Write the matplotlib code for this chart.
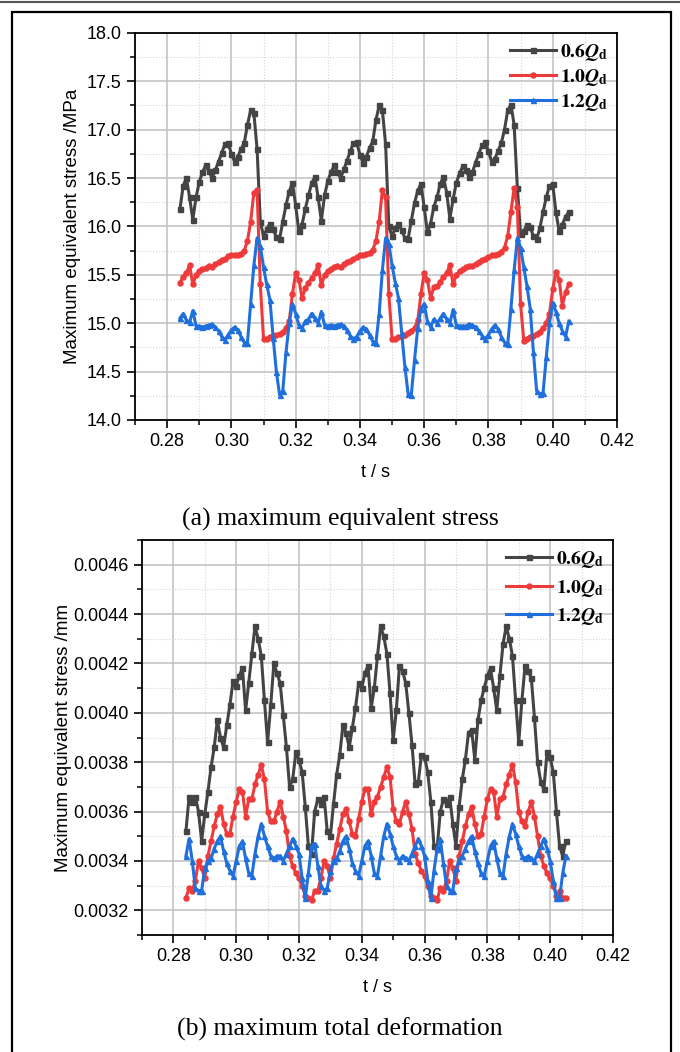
import numpy as np
import matplotlib
matplotlib.use('Agg')
import matplotlib.pyplot as plt
from matplotlib.ticker import MultipleLocator, FormatStrFormatter
from matplotlib.patches import Rectangle
from matplotlib.lines import Line2D

plt.rcParams['font.family'] = ['Liberation Sans', 'DejaVu Sans']
plt.rcParams['mathtext.fontset'] = 'stix'

# sample times, s (one sample per ms)
t = np.arange(284, 406) / 1000.0

# (a) maximum equivalent stress, MPa
stress_06 = [
    16.18, 16.42, 16.50, 16.30, 16.07, 16.30, 16.46, 16.56, 16.63, 16.57,
    16.50, 16.58, 16.67, 16.76, 16.85, 16.86, 16.75, 16.67, 16.72, 16.80,
    16.86, 17.05, 17.20, 17.17, 16.80, 16.05, 15.90, 15.97, 16.03, 15.97,
    15.89, 15.87, 16.05, 16.22, 16.36, 16.45, 16.22, 15.95, 16.02, 16.18,
    16.32, 16.45, 16.51, 16.30, 16.06, 16.32, 16.47, 16.56, 16.63, 16.56,
    16.50, 16.59, 16.68, 16.78, 16.86, 16.87, 16.74, 16.66, 16.72, 16.81,
    16.88, 17.10, 17.25, 17.20, 16.85, 16.00, 15.90, 15.98, 16.03, 15.96,
    15.88, 15.87, 16.06, 16.24, 16.37, 16.44, 16.20, 15.94, 16.03, 16.20,
    16.30, 16.44, 16.51, 16.35, 16.08, 16.28, 16.45, 16.55, 16.62, 16.58,
    16.51, 16.56, 16.66, 16.75, 16.84, 16.87, 16.78, 16.67, 16.70, 16.78,
    16.86, 17.00, 17.20, 17.26, 17.05, 16.40, 15.92, 15.95, 16.02, 15.99,
    15.90, 15.87, 15.98, 16.15, 16.30, 16.42, 16.44, 16.15, 15.95, 16.02,
    16.10, 16.15]
stress_10 = [
    15.42, 15.48, 15.52, 15.60, 15.40, 15.50, 15.54, 15.56, 15.57, 15.59,
    15.58, 15.61, 15.63, 15.65, 15.66, 15.69, 15.70, 15.70, 15.71, 15.72,
    15.75, 15.85, 16.05, 16.35, 16.38, 15.40, 14.84, 14.84, 14.86, 14.87,
    14.88, 14.89, 14.91, 14.95, 15.02, 15.30, 15.52, 15.45, 15.26, 15.36,
    15.42, 15.47, 15.52, 15.60, 15.39, 15.50, 15.54, 15.56, 15.58, 15.59,
    15.58, 15.61, 15.63, 15.64, 15.66, 15.68, 15.70, 15.70, 15.72, 15.73,
    15.76, 15.85, 16.05, 16.38, 16.30, 15.30, 14.84, 14.84, 14.86, 14.87,
    14.88, 14.90, 14.92, 14.95, 15.03, 15.30, 15.52, 15.45, 15.26, 15.37,
    15.38, 15.43, 15.48, 15.52, 15.60, 15.40, 15.50, 15.54, 15.56, 15.58,
    15.59, 15.59, 15.61, 15.63, 15.65, 15.66, 15.68, 15.70, 15.71, 15.72,
    15.74, 15.78, 15.90, 16.15, 16.40, 16.20, 15.20, 14.82, 14.84, 14.86,
    14.87, 14.89, 14.91, 14.95, 15.00, 15.10, 15.35, 15.53, 15.45, 15.18,
    15.32, 15.40]
stress_12 = [
    15.05, 15.10, 15.03, 15.01, 15.13, 14.97, 14.97, 14.96, 14.97, 14.98,
    14.99, 14.96, 14.92, 14.86, 14.83, 14.88, 14.93, 14.96, 14.93, 14.86,
    14.80, 14.80, 15.20, 15.60, 15.88, 15.80, 15.58, 15.40, 15.24, 14.85,
    14.50, 14.26, 14.30, 14.70, 15.00, 15.20, 15.10, 14.98, 14.95, 15.02,
    15.04, 15.10, 15.05, 15.00, 15.12, 14.98, 14.97, 14.98, 14.97, 14.98,
    14.99, 14.97, 14.93, 14.87, 14.84, 14.86, 14.92, 14.96, 14.94, 14.88,
    14.81, 14.80, 15.10, 15.55, 15.88, 15.82, 15.60, 15.42, 15.26, 14.90,
    14.55, 14.27, 14.26, 14.62, 14.95, 15.15, 15.20, 15.02, 14.96, 15.04,
    15.00, 15.05, 15.10, 15.04, 15.00, 15.14, 14.98, 14.97, 14.97, 14.97,
    14.99, 14.98, 14.96, 14.92, 14.87, 14.84, 14.88, 14.94, 14.98, 14.94,
    14.86, 14.80, 14.78, 15.15, 15.55, 15.88, 15.78, 15.58, 15.38, 15.15,
    14.70, 14.30, 14.27, 14.28, 14.65, 15.00, 15.21, 15.12, 15.00, 14.92,
    14.86, 15.02]

# (b) maximum total deformation, in units of 1e-4 mm
deform_06 = [
    35.2, 36.6, 36.4, 36.6, 36.0, 34.8, 35.9, 36.8, 37.8, 38.6,
    39.7, 39.0, 38.6, 39.5, 40.3, 41.3, 41.1, 41.5, 41.8, 40.1,
    41.2, 42.4, 43.5, 43.0, 42.3, 40.5, 38.8, 40.3, 42.0, 41.6,
    41.2, 39.9, 38.6, 37.0, 37.3, 38.4, 38.1, 37.6, 36.2, 34.6,
    34.3, 36.0, 36.5, 36.3, 36.6, 35.2, 35.0, 36.3, 37.5, 38.3,
    39.5, 39.2, 38.6, 39.4, 40.2, 41.2, 41.0, 41.6, 41.9, 40.2,
    41.0, 42.3, 43.5, 43.1, 42.4, 40.8, 38.9, 40.1, 41.9, 41.7,
    41.2, 40.0, 38.7, 37.1, 37.2, 38.3, 38.2, 37.6, 36.4, 34.6,
    34.5, 36.0, 36.5, 36.3, 36.6, 35.5, 34.6, 36.2, 37.3, 38.1,
    39.2, 39.3, 38.1, 39.7, 40.5, 41.0, 41.5, 41.8, 41.0, 40.1,
    41.5, 42.8, 43.5, 43.0, 42.3, 40.5, 38.8, 40.5, 41.9, 41.7,
    41.4, 39.8, 38.0, 37.2, 36.9, 38.4, 38.2, 37.6, 36.0, 34.6,
    34.2, 34.8]
deform_10 = [
    32.5, 32.9, 32.8, 33.2, 34.0, 33.7, 33.3, 34.2, 34.8, 35.4,
    35.9, 36.2, 35.5, 35.1, 35.1, 35.8, 36.4, 36.9, 36.8, 35.8,
    36.5, 36.5, 37.1, 37.5, 37.9, 37.3, 36.0, 35.6, 35.6, 36.0,
    36.4, 35.8, 35.2, 34.2, 33.8, 33.5, 33.3, 33.0, 32.6, 32.5,
    32.4, 32.8, 32.8, 33.3, 34.0, 33.8, 33.3, 34.1, 34.7, 35.3,
    35.9, 36.1, 35.6, 35.1, 35.0, 35.7, 36.4, 36.9, 36.9, 35.9,
    36.4, 36.6, 37.0, 37.4, 37.8, 37.4, 36.1, 35.6, 35.5, 36.0,
    36.4, 35.9, 35.3, 34.3, 33.9, 33.6, 33.4, 33.0, 32.6, 32.5,
    32.4, 32.9, 32.8, 33.2, 34.0, 33.7, 33.2, 34.2, 34.8, 35.4,
    35.9, 36.2, 35.5, 35.0, 35.1, 35.8, 36.5, 36.9, 36.8, 35.8,
    36.5, 36.6, 37.1, 37.5, 37.9, 37.2, 36.0, 35.6, 35.4, 36.0,
    36.4, 35.8, 35.0, 34.2, 33.8, 33.5, 33.3, 33.0, 32.6, 32.8,
    32.5, 32.5]
deform_12 = [
    34.2, 34.9, 34.0, 32.9, 32.8, 32.8, 33.7, 34.0, 34.1, 34.5,
    34.8, 35.0, 34.4, 33.9, 33.6, 33.4, 34.0, 34.6, 34.8, 34.1,
    33.5, 33.4, 34.3, 35.0, 35.5, 35.0, 34.6, 34.2, 34.1, 34.2,
    34.2, 34.0, 34.3, 34.6, 34.9, 34.6, 34.3, 33.3, 32.5, 33.5,
    34.6, 34.7, 33.8, 33.0, 32.8, 32.9, 33.6, 34.0, 34.1, 34.4,
    34.8, 35.0, 34.5, 33.9, 33.6, 33.4, 34.0, 34.6, 34.8, 34.2,
    33.5, 33.4, 34.2, 35.0, 35.5, 35.1, 34.6, 34.2, 34.0, 34.2,
    34.1, 34.0, 34.3, 34.6, 34.9, 34.6, 34.2, 33.2, 32.5, 33.6,
    34.5, 34.9, 33.9, 33.0, 32.8, 32.8, 33.7, 34.0, 34.2, 34.5,
    34.8, 35.0, 34.4, 33.9, 33.5, 33.4, 34.0, 34.6, 34.8, 34.1,
    33.5, 33.4, 34.3, 35.0, 35.5, 35.1, 34.6, 34.2, 34.1, 34.2,
    34.1, 34.0, 34.3, 34.6, 34.9, 34.5, 34.0, 33.2, 32.5, 32.5,
    33.5, 34.2]

labels = [r'$\mathbf{0.6}\mathbfit{Q}_{\mathbf{d}}$',
          r'$\mathbf{1.0}\mathbfit{Q}_{\mathbf{d}}$',
          r'$\mathbf{1.2}\mathbfit{Q}_{\mathbf{d}}$']
colors = ['#444444', '#ee3a3a', '#1f6fdc']
markers = ['s', 'o', '^']


def style_axis(ax):
    ax.set_xlim(0.27, 0.42)
    ax.xaxis.set_major_locator(MultipleLocator(0.02))
    ax.xaxis.set_minor_locator(MultipleLocator(0.01))
    ax.xaxis.set_major_formatter(FormatStrFormatter('%.2f'))
    ax.grid(which='major', color='#c0c0c0', lw=1.1, ls='-')
    ax.grid(which='minor', color='#d6d6d6', lw=0.8, ls=':')
    ax.set_axisbelow(True)
    ax.tick_params(which='major', direction='out', length=6, width=1.2,
                   labelsize=13, top=False, right=False)
    ax.tick_params(which='minor', direction='out', length=3.5, width=1.1,
                   top=False, right=False)
    for s in ax.spines.values():
        s.set_linewidth(1.3)
    ax.set_xlabel('t / s', fontsize=13, labelpad=10)


def draw(ax, series, spacing):
    for y, c, m, lab in zip(series, colors, markers, labels):
        ax.plot(t, y, color=c, marker=m, markersize=3.6, lw=2.2, label=lab)
    ax.legend(loc='upper right', frameon=False, fontsize=14,
              handlelength=2.4, handletextpad=0.2, labelspacing=spacing,
              borderaxespad=0.15, borderpad=0.3)


fig = plt.figure(figsize=(6.8, 10.52), dpi=100)

ax1 = fig.add_axes([0.1985, 0.6008, 0.7088, 0.3679])
draw(ax1, [stress_06, stress_10, stress_12], 0.22)
style_axis(ax1)
ax1.set_ylim(14.0, 18.0)
ax1.yaxis.set_major_locator(MultipleLocator(0.5))
ax1.yaxis.set_minor_locator(MultipleLocator(0.25))
ax1.yaxis.set_major_formatter(FormatStrFormatter('%.1f'))
ax1.set_ylabel('Maximum equivalent stress /MPa', fontsize=13.5)

ax2 = fig.add_axes([0.2088, 0.1112, 0.6926, 0.3755])
draw(ax2, [np.array(d) * 1e-4 for d in (deform_06, deform_10, deform_12)],
     0.4)
style_axis(ax2)
ax2.set_ylim(0.0031, 0.0047)
ax2.yaxis.set_major_locator(MultipleLocator(0.0002))
ax2.yaxis.set_minor_locator(MultipleLocator(0.0001))
ax2.yaxis.set_major_formatter(FormatStrFormatter('%.4f'))
ax2.set_ylabel('Maximum equivalent stress /mm', fontsize=13.5, labelpad=1)

fig.text(0.5, 1 - 519 / 1052, '(a) maximum equivalent stress', ha='center',
         va='center', family='Liberation Serif', fontsize=18.5)
fig.text(0.5, 1 - 1029 / 1052, '(b) maximum total deformation', ha='center',
         va='center', family='Liberation Serif', fontsize=18.5)

fig.add_artist(Rectangle((12 / 680, -0.01), 659 / 680, 1 - 12 / 1052 + 0.01,
                         transform=fig.transFigure, fill=False,
                         ec='black', lw=1.6))
fig.add_artist(Line2D([0, 1], [1 - 2 / 1052] * 2, transform=fig.transFigure,
                      color='#555555', lw=1.5))

fig.savefig('out.png', dpi=100)
